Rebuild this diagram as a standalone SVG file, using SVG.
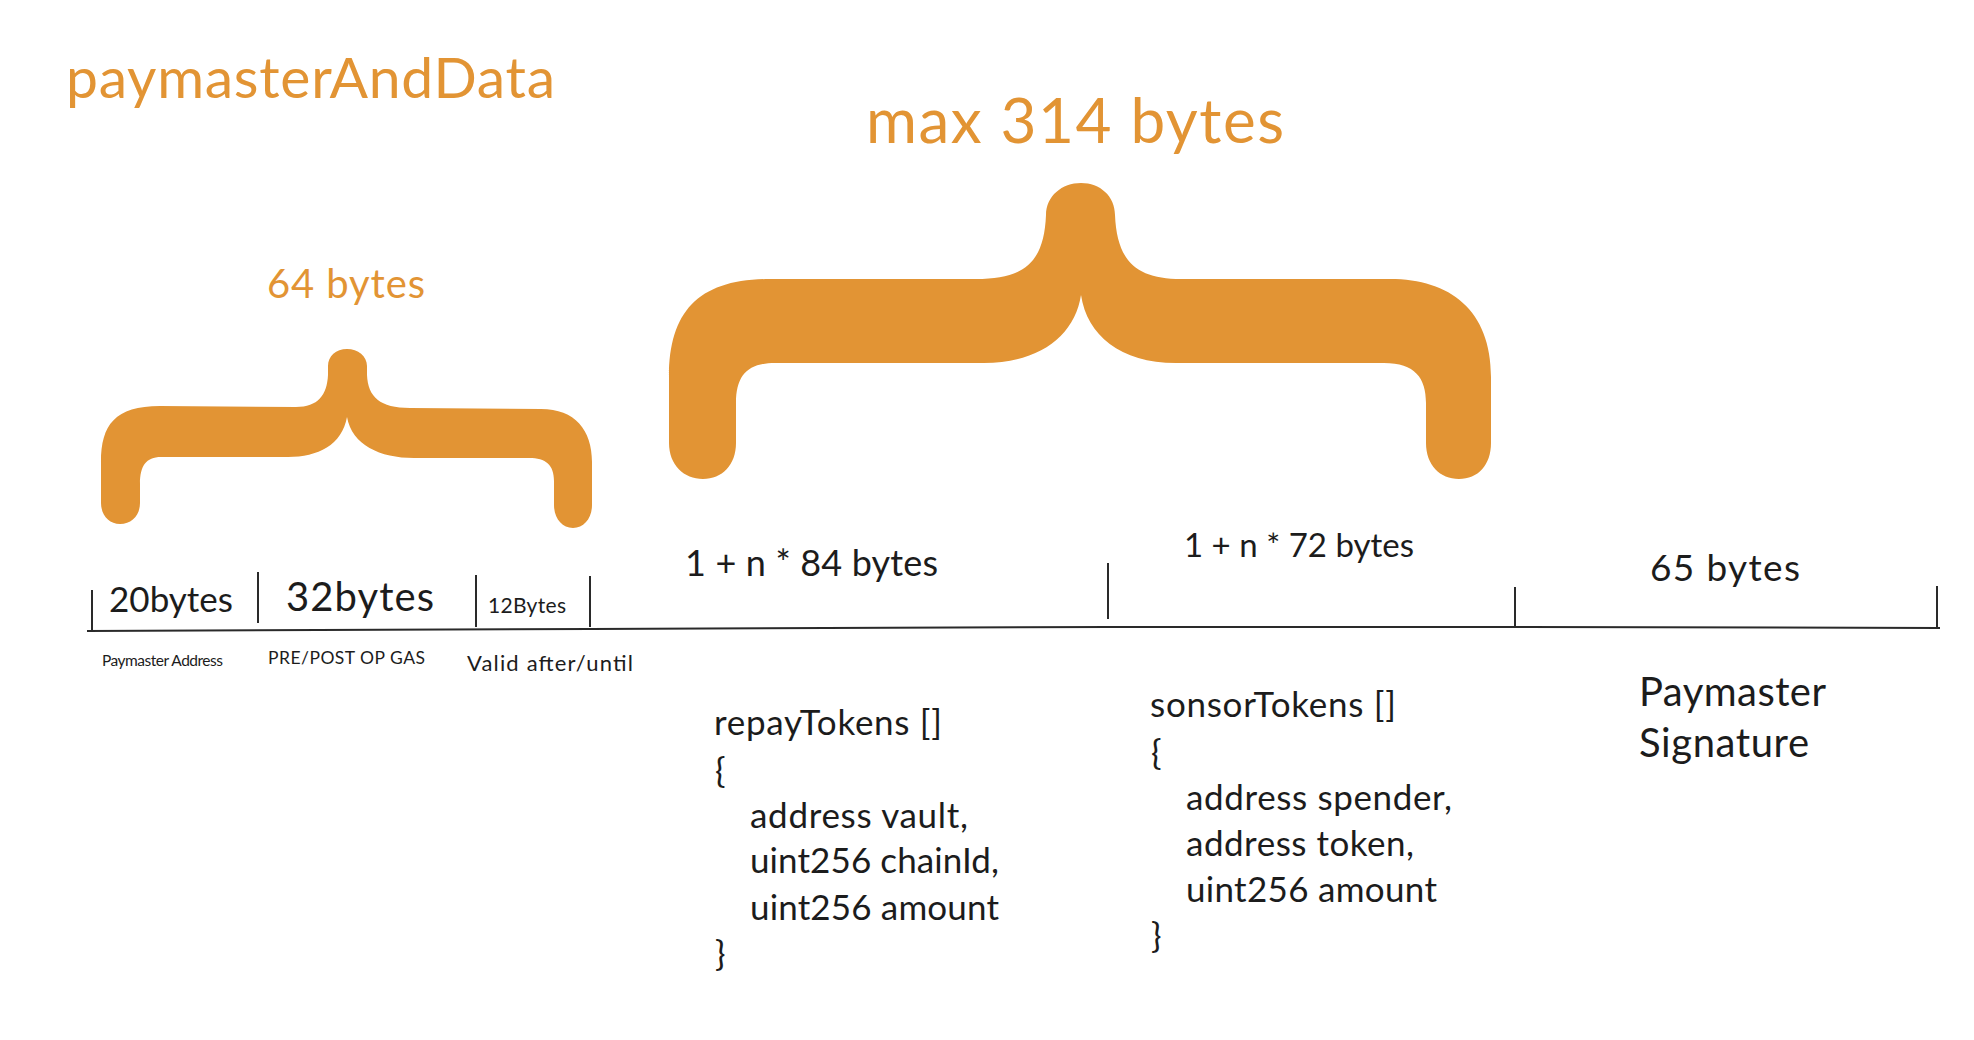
<svg xmlns="http://www.w3.org/2000/svg" width="1974" height="1040" viewBox="0 0 1974 1040">
  <style>
    .bg { fill: #ffffff; }
    .orange { fill: #E29434; }
    .otext { fill: #E29434; font-family: Lato, "Open Sans", "Liberation Sans", sans-serif; }
    .t { fill: #1c1c1c; font-family: Lato, "Open Sans", "Liberation Sans", sans-serif; }
    .rule { stroke: #2a2a2a; stroke-width: 2; fill: none; stroke-linecap: butt; }
  </style>
  <rect class="bg" x="0" y="0" width="1974" height="1040"/>

  <g id="title">
    <text class="otext" x="66" y="98" font-size="57" textLength="489">paymasterAndData</text>
  </g>

  <g id="brace-64">
    <text class="otext" x="267" y="298" font-size="40" textLength="158">64 bytes</text>
    <path class="orange" d="M 101,500 L 101,462 C 101,425 115,406 160,406 L 296,407 C 318,407 327,395 328,375 L 328,366 C 328,356 336,349 347,349 C 358,349 367,356 367,366 L 367,375 C 368,397 380,408 410,408 L 541,409 C 575,409 592,430 592,462 L 592,505 C 592,518 584,528 573,528 C 562,528 554,518 554,505 L 554,481 C 554,465 546,458 529,458 L 414,458 C 380,458 352,445 347,417 C 342,445 318,457 288,457 L 161,457 C 146,457 140,466 140,484 L 140,503 C 140,515 132,524 120,524 C 109,524 101,515 101,503 Z"/>
  </g>

  <g id="brace-314">
    <text class="otext" x="866" y="143" font-size="62" textLength="418">max 314 bytes</text>
    <path class="orange" d="M 669,443 L 669,377 C 669,310 700,279 770,279 L 976,279 C 1025,279 1044,262 1046,215 C 1046,196 1062,183 1081,183 C 1100,183 1115,196 1115,215 C 1117,262 1137,279 1181,279 L 1390,279 C 1450,279 1491,310 1491,377 L 1491,443 C 1491,465 1478,479 1459,479 C 1440,479 1426,465 1426,443 L 1426,403 C 1426,378 1415,363 1384,363 L 1176,363 C 1120,363 1087,335 1081,295 C 1075,335 1040,363 984,363 L 775,363 C 748,363 736,375 736,403 L 736,443 C 736,465 722,479 703,479 C 684,479 669,465 669,443 Z"/>
  </g>

  <g id="connectors">
    <polyline class="rule" points="87,631 591,629 1110,627 1515,627 1940,628"/>
    <line class="rule" x1="92" y1="590" x2="92" y2="630"/>
    <line class="rule" x1="258" y1="572" x2="258" y2="623"/>
    <line class="rule" x1="476" y1="575" x2="476" y2="627"/>
    <line class="rule" x1="590" y1="576" x2="590" y2="627"/>
    <line class="rule" x1="1108" y1="563" x2="1108" y2="619"/>
    <line class="rule" x1="1515" y1="587" x2="1515" y2="627"/>
    <line class="rule" x1="1937" y1="586" x2="1937" y2="627"/>
  </g>

  <g id="seg-paymaster-address">
    <text class="t" x="109" y="612" font-size="35" textLength="124">20bytes</text>
    <text class="t" x="102" y="666" font-size="15.5" textLength="121">Paymaster Address</text>
  </g>

  <g id="seg-gas">
    <text class="t" x="286" y="611" font-size="40" textLength="148">32bytes</text>
    <text class="t" x="268" y="664" font-size="17.5" textLength="157">PRE/POST OP GAS</text>
  </g>

  <g id="seg-valid">
    <text class="t" x="488" y="613" font-size="21" textLength="78">12Bytes</text>
    <text class="t" x="467" y="671" font-size="22" textLength="166">Valid after/until</text>
  </g>

  <g id="seg-repay">
    <text class="t" x="685" y="576" font-size="36" textLength="253">1 + n * 84 bytes</text>
    <text class="t" x="714" y="735" font-size="35" textLength="228">repayTokens []</text>
    <text class="t" x="715" y="783" font-size="35">{</text>
    <text class="t" x="750" y="828" font-size="35" textLength="218">address vault,</text>
    <text class="t" x="750" y="873" font-size="35" textLength="249">uint256 chainId,</text>
    <text class="t" x="750" y="920" font-size="35" textLength="249">uint256 amount</text>
    <text class="t" x="715" y="966" font-size="35">}</text>
  </g>

  <g id="seg-sponsor">
    <text class="t" x="1184" y="557" font-size="33" textLength="230">1 + n * 72 bytes</text>
    <text class="t" x="1150" y="717" font-size="35" textLength="246">sonsorTokens []</text>
    <text class="t" x="1151" y="765" font-size="35">{</text>
    <text class="t" x="1186" y="810" font-size="35" textLength="266">address spender,</text>
    <text class="t" x="1186" y="856" font-size="35" textLength="228">address token,</text>
    <text class="t" x="1186" y="902" font-size="35" textLength="251">uint256 amount</text>
    <text class="t" x="1151" y="948" font-size="35">}</text>
  </g>

  <g id="seg-signature">
    <text class="t" x="1650" y="581" font-size="37" textLength="150">65 bytes</text>
    <text class="t" x="1639" y="706" font-size="40" textLength="187">Paymaster</text>
    <text class="t" x="1639" y="757" font-size="40" textLength="170">Signature</text>
  </g>
</svg>
